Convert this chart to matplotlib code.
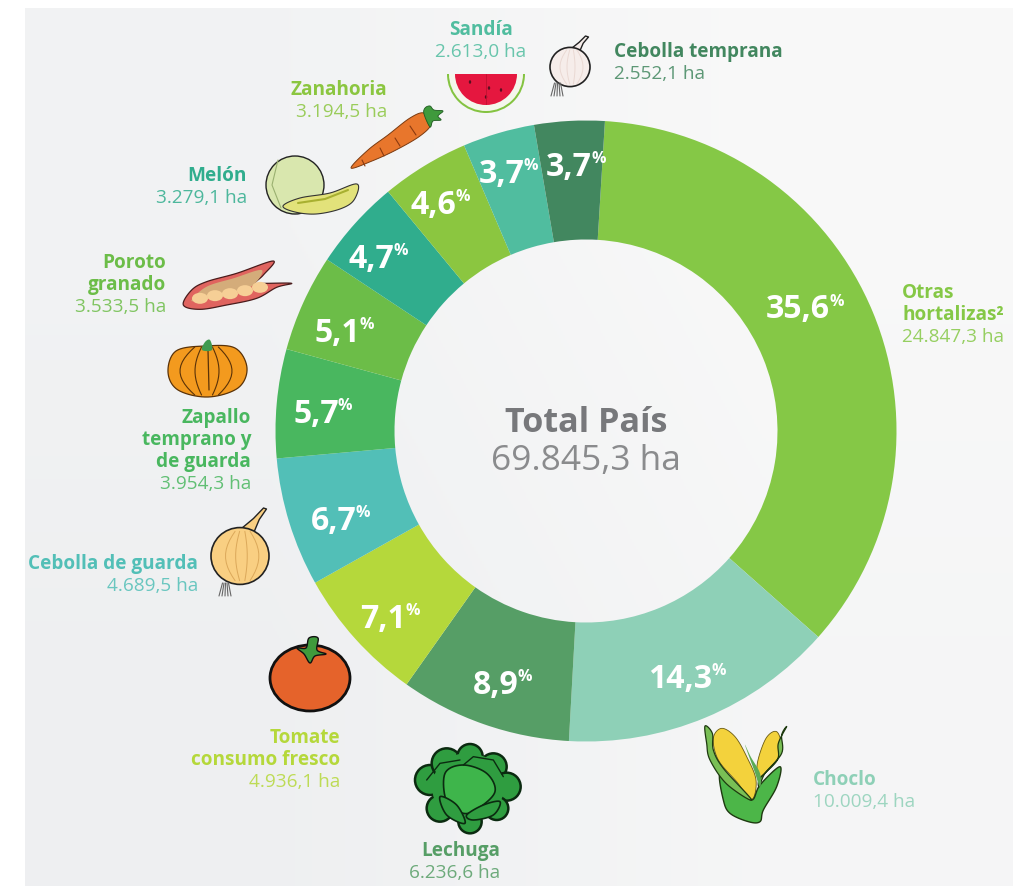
import numpy as np
import matplotlib
matplotlib.use('Agg')
import matplotlib.pyplot as plt
from matplotlib.patches import Ellipse, Polygon, Wedge

plt.rcParams['font.family'] = ['Open Sans', 'DejaVu Sans']

# data
cultivos = ['Otras hortalizas', 'Choclo', 'Lechuga', 'Tomate consumo fresco', 'Cebolla de guarda',
            'Zapallo temprano y de guarda', 'Poroto granado', 'Melón', 'Zanahoria', 'Sandía', 'Cebolla temprana']
hectareas = [24847.3, 10009.4, 6236.6, 4936.1, 4689.5, 3954.3, 3533.5, 3279.1, 3194.5, 2613.0, 2552.1]
porcentajes = ['35,6', '14,3', '8,9', '7,1', '6,7', '5,7', '5,1', '4,7', '4,6', '3,7', '3,7']
nombres = ['Otras\nhortalizas²', 'Choclo', 'Lechuga', 'Tomate\nconsumo fresco', 'Cebolla de guarda',
           'Zapallo\ntemprano y\nde guarda', 'Poroto\ngranado', 'Melón', 'Zanahoria', 'Sandía', 'Cebolla temprana']
superficies = ['24.847,3 ha', '10.009,4 ha', '6.236,6 ha', '4.936,1 ha', '4.689,5 ha', '3.954,3 ha',
               '3.533,5 ha', '3.279,1 ha', '3.194,5 ha', '2.613,0 ha', '2.552,1 ha']
colores = ['#85c846', '#8ed0b7', '#569e66', '#b5d83b', '#52bfb7', '#49b75f', '#6cbd48', '#30ad8d',
           '#8bc640', '#50bd9f', '#42875f']
total_nombre = 'Total País'
total_valor = '69.845,3 ha'

# layout in pixels of the reference
W, H = 1013, 886
cx, cy, r_ext, r_int = 586, 431, 310.5, 191.5
# x of the number's right edge, y centre
pos_pct = [(830, 310), (712, 679), (519, 685), (406, 619), (357, 521), (339, 414),
           (360, 333), (394, 259), (456, 205), (525, 174), (592, 167)]
# x, y of first line, alignment
pos_txt = [(902, 293, 'left'), (813, 780, 'left'), (500, 851, 'right'), (340, 738, 'right'),
           (198, 564, 'right'), (251, 418, 'right'), (166, 263, 'right'), (247, 176, 'right'),
           (387, 90, 'right'), (481, 30, 'center'), (614, 52, 'left')]
salto = 22

fig = plt.figure(figsize=(W / 100, H / 100), dpi=100, facecolor='white')

# pixel canvas for panel, text and icons
ax = fig.add_axes([0, 0, 1, 1])
esquinas = np.array([[[0.948, 0.952, 0.956], [0.975, 0.975, 0.975]],
                     [[0.935, 0.940, 0.946], [0.962, 0.964, 0.966]]])
ax.imshow(esquinas, extent=(25, W, H, 8), interpolation='bilinear', aspect='auto', zorder=0)
ax.set_xlim(0, W)
ax.set_ylim(H, 0)
ax.axis('off')

# donut
ax_d = fig.add_axes([(cx - r_ext) / W, 1 - (cy + r_ext) / H, 2 * r_ext / W, 2 * r_ext / H])
ax_d.pie(hectareas, colors=colores, startangle=86.5, counterclock=False, radius=1,
         wedgeprops={'width': 1 - r_int / r_ext, 'linewidth': 0})
ax_d.set_xlim(-1, 1)
ax_d.set_ylim(-1, 1)
ax_d.patch.set_alpha(0)

# second canvas over the donut for the labels
ax_t = fig.add_axes([0, 0, 1, 1])
ax_t.set_xlim(0, W)
ax_t.set_ylim(H, 0)
ax_t.axis('off')

for p, (x, y) in zip(porcentajes, pos_pct):
    ax_t.text(x, y, p, color='white', fontsize=23, fontweight='bold', ha='right', va='center')
    ax_t.text(x - 1, y - 8, '%', color='white', fontsize=11.5, fontweight='bold', ha='left', va='center')

ax_t.text(cx, 423, total_nombre, color='#77787b', fontsize=24.6, fontweight='bold', ha='center', va='center')
ax_t.text(cx, 461, total_valor, color='#8a8b8d', fontsize=25.4, ha='center', va='center')

for nombre, sup, col, (x, y, al) in zip(nombres, superficies, colores, pos_txt):
    lineas = nombre.split('\n')
    for i, l in enumerate(lineas):
        ax_t.text(x, y + i * salto, l, color=col, fontsize=13.7, fontweight='bold', ha=al, va='center')
    ax_t.text(x, y + len(lineas) * salto, sup, color=col, fontsize=13.7, ha=al, va='center', alpha=0.85)


# icons, rough drawings
def suave(pts, n=10):
    # closed catmull-rom through the outline points
    p = np.array(pts, dtype=float)
    t = np.linspace(0, 1, n, endpoint=False)[:, None]
    out = []
    for i in range(len(p)):
        p0, p1, p2, p3 = p[i - 1], p[i], p[(i + 1) % len(p)], p[(i + 2) % len(p)]
        out.append(0.5 * (2 * p1 + (p2 - p0) * t + (2 * p0 - 5 * p1 + 4 * p2 - p3) * t ** 2
                          + (3 * p1 - p0 - 3 * p2 + p3) * t ** 3))
    return np.vstack(out)


def blob(pts, fc, ec='#222222', lw=1.0, z=5):
    ax_t.add_patch(Polygon(suave(pts), closed=True, fc=fc, ec=ec, lw=lw, zorder=z, joinstyle='round'))


def oval(x, y, rx, ry, fc, ec='#222222', lw=1.2, z=5, ang=0):
    ax_t.add_patch(Ellipse((x, y), 2 * rx, 2 * ry, angle=ang, fc=fc, ec=ec, lw=lw, zorder=z))


def curva(pts, col='#222222', lw=0.8, z=6):
    p = np.array(pts)
    ax_t.plot(p[:, 0], p[:, 1], color=col, lw=lw, zorder=z, solid_capstyle='round')


def zoomed(pts, x0, y0):
    return [(x0 + a / 3, y0 + b / 3) for a, b in pts]


def cebolla(x, y, r, tip, raiz, fc, linea):
    # neck from the top of the bulb to the tip
    bx, by = x + r * 0.2, y - r * 0.85
    mx, my = bx + (tip[0] - bx) * 0.55, by + (tip[1] - by) * 0.55
    ancho = r * 0.1
    ax_t.add_patch(Polygon([(bx - r * 0.35, by + 2), (mx - ancho, my), (tip[0] - 1.5, tip[1]), (tip[0] + 1.5, tip[1] + 1),
                            (mx + ancho, my + 1), (bx + r * 0.25, by + 3)],
                           closed=True, fc=fc, ec='#222222', lw=1.0, zorder=4, joinstyle='round'))
    oval(x, y, r, r * 0.98, fc)
    for d in (-0.6, -0.25, 0.15, 0.55):
        t = np.linspace(-0.85, 0.85, 12)
        curva(np.c_[x + d * r * np.cos(t * 1.3) + r * 0.1, y + r * t], col=linea, lw=0.7)
    for d in (-7, -4, -1, 2, 5):
        curva([(raiz[0] + d * 0.5, raiz[1] - 9), (raiz[0] + d, raiz[1] + 4)], col='#666666', lw=0.8)


# cebolla temprana
cebolla(570, 67, 20, (587, 36), (558, 92), '#f6edea', '#ead9d3')
# cebolla de guarda
cebolla(240, 556, 29, (265, 508), (226, 592), '#f9cf82', '#dba85a')

# sandia
ax_t.add_patch(Wedge((486, 74), 39, 0, 180, fc='#84c341', ec='none', zorder=5))
ax_t.add_patch(Wedge((486, 74), 37, 0, 180, fc='#f4f6ec', ec='none', zorder=5))
ax_t.add_patch(Wedge((486, 74), 31, 0, 180, fc='#e5173f', ec='none', zorder=5))
for a, b in [(470, 82), (486, 97), (489, 88), (501, 90)]:
    oval(a, b, 1.2, 1.8, '#5a1020', ec='none', z=6)
curva([(486, 74), (486, 104)], col='#c01030', lw=0.6)

# zanahoria
blob([(351, 168), (368, 150), (388, 135), (410, 118), (424, 113), (431, 124), (420, 136),
      (396, 150), (372, 161)], '#e8762c', ec='#7a3a10', lw=0.7)
for a, b, c, d in [(362, 160, 365, 166), (380, 148, 384, 156), (395, 138, 400, 146), (410, 126, 416, 135)]:
    curva([(a, b), (c, d)], col='#8a3a10', lw=0.8)
blob([(424, 114), (425, 108), (430, 106), (434, 110), (443, 111), (438, 116), (441, 120),
      (433, 121), (430, 127)], '#3f9a3c', ec='#1e5a20', lw=0.6)

# melon
oval(295, 185, 29, 29, '#d9e7ae', lw=1.0)
curva([(278, 160), (272, 185), (281, 208)], col='#9ab070')
blob([(283, 206), (300, 198), (330, 193), (357, 184), (354, 200), (340, 209), (316, 214), (295, 212)],
     '#e2e27a', ec='#333333', lw=0.8, z=6)
curva([(298, 203), (325, 199), (348, 190)], col='#a8b030', lw=1.5, z=7)

# poroto granado
blob(zoomed([(100, 165), (125, 120), (170, 95), (260, 70), (370, 33), (340, 75), (315, 100), (350, 100),
             (425, 100), (380, 112), (320, 145), (230, 165), (150, 178)], 150, 250), '#e0645f', ec='#4a1c1c', lw=0.9)
blob(zoomed([(125, 150), (170, 110), (250, 85), (335, 60), (310, 105), (250, 130), (150, 150)], 150, 250),
     '#d4ac7a', ec='none', z=6)
for a, b in [(150, 145), (195, 137), (240, 131), (285, 122), (330, 112)]:
    oval(150 + a / 3, 250 + b / 3, 8, 5.5, '#f6cf96', ec='none', z=7)

# zapallo
pz = [(168, 372), (176, 351), (205, 346), (235, 348), (247, 368), (238, 388), (208, 397), (178, 390)]
blob(pz, '#f39a1e', ec='#5a3208', lw=0.9)
for d in (-27, -12, 12, 25):
    t = np.linspace(-1, 1, 14)
    curva(np.c_[207 + d * np.cos(t * 1.1), 371 + 24 * t], col='#5a3208', lw=0.8)
curva([(208, 350), (209, 390)], col='#5a3208', lw=0.9)
blob([(202, 350), (205, 342), (210, 340), (212, 350)], '#3f9a50', ec='none', z=7)

# tomate
oval(310, 678, 40, 33, '#e5632b', ec='#111111', lw=2.0)
blob([(297, 648), (306, 648), (309, 638), (318, 638), (317, 650), (326, 654), (315, 656), (310, 663),
      (304, 654)], '#3f9a3c', ec='#111111', lw=1.0, z=6)

# lechuga
borde = '#0b2a10'
for a, b, r in [(90, 150, 45), (140, 100, 45), (210, 80, 38), (280, 110, 40), (320, 170, 42), (290, 235, 35),
                (210, 275, 35), (120, 235, 40)]:
    oval(400 + a / 3, 730 + b / 3, r / 3, r / 3, '#2f9d40', ec=borde, lw=1.8)
oval(468, 787, 36, 34, '#2f9d40', ec='none', z=5.5)
blob(zoomed([(135, 130), (190, 105), (260, 130), (285, 185), (235, 235), (190, 250), (140, 215)], 400, 730),
     '#3eb54b', ec=borde, lw=1.2, z=6)
curva(zoomed([(80, 150), (120, 100), (180, 90)], 400, 730), col=borde, lw=1.0)
curva(zoomed([(190, 105), (220, 80), (280, 90), (310, 140)], 400, 730), col=borde, lw=1.0)
blob(zoomed([(120, 200), (170, 225), (195, 280), (140, 255)], 400, 730), '#2f9d40', ec=borde, lw=1.2, z=7)
blob(zoomed([(200, 255), (250, 225), (300, 215), (280, 255), (220, 270)], 400, 730), '#2f9d40', ec=borde, lw=1.2, z=7)

# choclo
borde = '#1e3a10'
blob(zoomed([(100, 85), (125, 55), (165, 80), (200, 140), (228, 210), (215, 268), (170, 215), (115, 150)], 680, 710),
     '#f3d23c', ec='#6a5a10', lw=0.6, z=5)
blob(zoomed([(232, 160), (258, 85), (290, 65), (305, 110), (290, 150), (240, 200)], 680, 710),
     '#f3d23c', ec='#6a5a10', lw=0.6, z=5)
blob(zoomed([(120, 190), (170, 225), (215, 270), (240, 225), (300, 170), (290, 230), (250, 300), (240, 335),
             (205, 335), (150, 310), (130, 270)], 680, 710), '#4cb648', ec=borde, lw=1.0, z=6)
blob(zoomed([(75, 48), (97, 70), (100, 120), (130, 175), (215, 270), (140, 222), (90, 150), (80, 100)], 680, 710),
     '#79bf55', ec=borde, lw=0.9, z=7)
blob(zoomed([(320, 50), (305, 75), (305, 130), (255, 190), (238, 230), (240, 205), (292, 150), (295, 100)], 680, 710),
     '#79bf55', ec=borde, lw=0.9, z=7)
blob(zoomed([(195, 105), (212, 140), (240, 190), (240, 232), (222, 180)], 680, 710), '#5cab55', ec='none', z=7)

fig.savefig('out.png', dpi=100, facecolor='white')
